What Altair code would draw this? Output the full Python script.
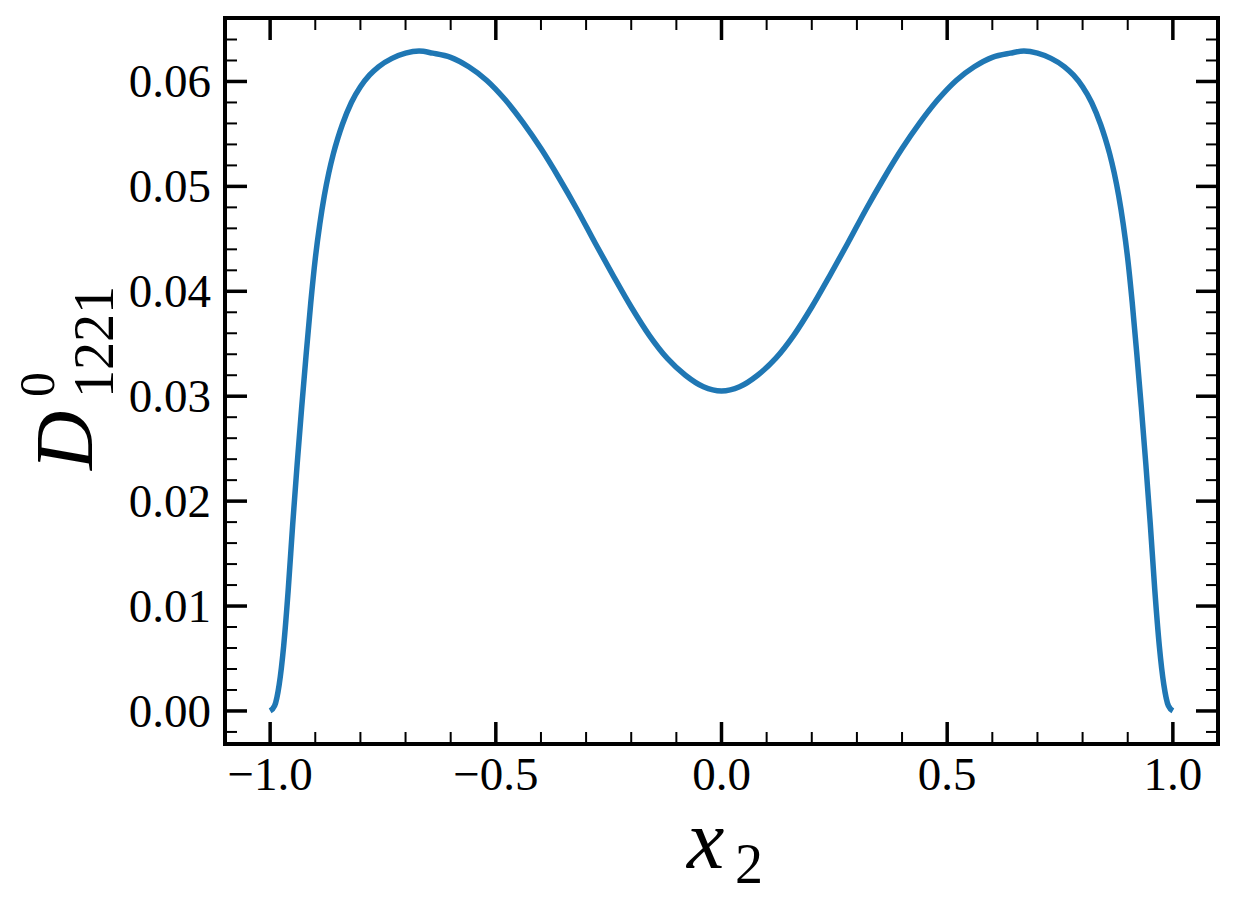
import altair as alt
import pandas as pd

# ---- data ----
x_vals = [-1.00, -0.99, -0.98, -0.97, -0.96, -0.95, -0.94, -0.93, -0.92, -0.91,
          -0.90, -0.89, -0.88, -0.87, -0.86, -0.85, -0.84, -0.82, -0.80, -0.78,
          -0.76, -0.73, -0.70, -0.67, -0.64, -0.60, -0.56, -0.52, -0.48, -0.44,
          -0.40, -0.36, -0.32, -0.28, -0.24, -0.20, -0.16, -0.12, -0.08, -0.04,
          0.00,
          0.04, 0.08, 0.12, 0.16, 0.20, 0.24, 0.28, 0.32, 0.36, 0.40,
          0.44, 0.48, 0.52, 0.56, 0.60, 0.64, 0.67, 0.70, 0.73, 0.76,
          0.78, 0.80, 0.82, 0.84, 0.85, 0.86, 0.87, 0.88, 0.89, 0.90,
          0.91, 0.92, 0.93, 0.94, 0.95, 0.96, 0.97, 0.98, 0.99, 1.00]
d_vals = [0.0000, 0.0005, 0.0025, 0.0062, 0.0115, 0.0178, 0.0236, 0.0290, 0.0341, 0.0389,
          0.0431, 0.0464, 0.0491, 0.0513, 0.0531, 0.0546, 0.0559, 0.0580, 0.0595, 0.0606,
          0.0614, 0.0622, 0.0627, 0.0629, 0.0627, 0.0623, 0.0614, 0.0601, 0.0583, 0.0561,
          0.0536, 0.0508, 0.0478, 0.0446, 0.0415, 0.0385, 0.0358, 0.0336, 0.0320, 0.0309,
          0.0305,
          0.0309, 0.0320, 0.0336, 0.0358, 0.0385, 0.0415, 0.0446, 0.0478, 0.0508, 0.0536,
          0.0561, 0.0583, 0.0601, 0.0614, 0.0623, 0.0627, 0.0629, 0.0627, 0.0622, 0.0614,
          0.0606, 0.0595, 0.0580, 0.0559, 0.0546, 0.0531, 0.0513, 0.0491, 0.0464, 0.0431,
          0.0389, 0.0341, 0.0290, 0.0236, 0.0178, 0.0115, 0.0062, 0.0025, 0.0005, 0.0000]

x_major = [-1.0, -0.5, 0.0, 0.5, 1.0]
x_minor = [-0.9, -0.8, -0.7, -0.6, -0.4, -0.3, -0.2, -0.1, 0.1, 0.2, 0.3, 0.4, 0.6, 0.7, 0.8, 0.9]
y_major = [0.00, 0.01, 0.02, 0.03, 0.04, 0.05, 0.06]
y_minor = [-0.002, 0.002, 0.004, 0.006, 0.008, 0.012, 0.014, 0.016, 0.018, 0.022, 0.024, 0.026,
           0.028, 0.032, 0.034, 0.036, 0.038, 0.042, 0.044, 0.046, 0.048, 0.052, 0.054, 0.056,
           0.058, 0.062, 0.064]

x_domain = [-1.1, 1.1]
y_domain = [-0.00315, 0.06605]

ylab_main, ylab_sup, ylab_sub = "D", "0", "1221"
xlab_main, xlab_sub = "x", "2"

W, H = 993, 726
MAJ, MIN = 22, 12
FONT = "Liberation Serif"
TICKFS = 47

xs = alt.Scale(domain=x_domain, nice=False, zero=False)
ys = alt.Scale(domain=y_domain, nice=False, zero=False)

df = pd.DataFrame({"x": x_vals, "d": d_vals})

line = alt.Chart(df).mark_line(color="#1f77b4", strokeWidth=5.5, interpolate="monotone").encode(
    x=alt.X("x:Q", scale=xs, axis=None),
    y=alt.Y("d:Q", scale=ys, axis=None),
)

def xticks(vals, length, width):
    d = pd.DataFrame({"v": vals})
    bottom = alt.Chart(d).mark_rule(color="black", strokeWidth=width).encode(
        x=alt.X("v:Q", scale=xs, axis=None), y=alt.value(H), y2=alt.value(H - length))
    top = alt.Chart(d).mark_rule(color="black", strokeWidth=width).encode(
        x=alt.X("v:Q", scale=xs, axis=None), y=alt.value(0), y2=alt.value(length))
    return [bottom, top]

def yticks(vals, length, width):
    d = pd.DataFrame({"v": vals})
    left = alt.Chart(d).mark_rule(color="black", strokeWidth=width).encode(
        y=alt.Y("v:Q", scale=ys, axis=None), x=alt.value(0), x2=alt.value(length))
    right = alt.Chart(d).mark_rule(color="black", strokeWidth=width).encode(
        y=alt.Y("v:Q", scale=ys, axis=None), x=alt.value(W), x2=alt.value(W - length))
    return [left, right]

x_ticklabels = alt.Chart(pd.DataFrame({"v": x_major})).mark_text(
    font=FONT, fontSize=TICKFS, align="center", baseline="alphabetic", color="black").encode(
    x=alt.X("v:Q", scale=xs, axis=None), y=alt.value(H + 46),
    text=alt.Text("v:Q", format=".1f"))

y_ticklabels = alt.Chart(pd.DataFrame({"v": y_major})).mark_text(
    font=FONT, fontSize=TICKFS, align="right", baseline="alphabetic", dy=16, color="black").encode(
    y=alt.Y("v:Q", scale=ys, axis=None), x=alt.value(-14),
    text=alt.Text("v:Q", format=".2f"))

def label(txt, x, y, size, italic=False, angle=0):
    d = pd.DataFrame({"t": [txt]})
    return alt.Chart(d).mark_text(font=FONT, fontSize=size, fontStyle="italic" if italic else "normal",
                                  align="left", baseline="alphabetic", angle=angle, color="black").encode(
        text="t:N", x=alt.value(x), y=alt.value(y))

layers = [line]
layers += xticks(x_minor, MIN, 2)
layers += xticks(x_major, MAJ, 3.5)
layers += yticks(y_minor, MIN, 2)
layers += yticks(y_major, MAJ, 3.5)
layers += [x_ticklabels, y_ticklabels]
layers += [
    label(ylab_main, -133, 452, 82, italic=True, angle=270),
    label(ylab_sup, -171, 379, 50, angle=270),
    label(ylab_sub, -112, 380, 56, angle=270),
    label(xlab_main, 462, 850, 84, italic=True),
    label(xlab_sub, 510, 865, 56),
]

chart = alt.layer(*layers).properties(
    width=W, height=H,
    autosize=alt.AutoSizeParams(type="none"),
    padding={"left": 217, "top": 10, "right": 10, "bottom": 150},
    background="white",
).configure_view(stroke="black", strokeWidth=4)

chart.save("out.html", embed_options={"renderer": "svg", "actions": False})
